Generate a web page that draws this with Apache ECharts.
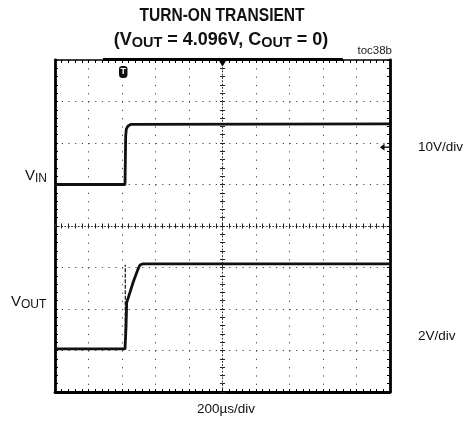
<!DOCTYPE html>
<html>
<head>
<meta charset="utf-8">
<script src="https://cdn.jsdelivr.net/npm/echarts@6/dist/echarts.min.js"></script>
<style>
  html, body { margin: 0; padding: 0; background: #fff; }
  #chart { width: 471px; height: 427px; }
</style>
</head>
<body>
<div id="chart"></div>
<script>
// Horizontal: time in µs relative to the trigger, 200µs/div over 10 divisions
const timeRange = [-400, 1600];
const timeStep = 200;

// Channel 1 (VIN), 10V/div over 8 divisions
const vinRange = [-50, 30];
const vinStep = 10;

// Channel 2 (VOUT), 2V/div over 8 divisions, ground a little above the 2nd line
const voutRange = [-2.08, 13.92];

// VIN trace (µs, V)
const vinTime  = [-400, 18, 20, 22, 26, 36, 54, 1600];
const vinVolts = [0, 0, 5.7, 11.7, 13.4, 14.1, 14.5, 14.6];

// VOUT trace (µs, V)
const voutTime  = [-400, 18, 22, 24, 28, 48, 67, 97, 107, 125, 1600];
const voutVolts = [0, 0, 0.73, 1.05, 2.23, 2.73, 3.22, 3.87, 4.04, 4.096, 4.096];

// narrow spike captured on VOUT at the switching instant
const spikeTime  = [19.7, 19.7];
const spikeVolts = [0.77, 4.05];

// trigger level on VIN (V) and record window shown on the top edge (µs)
const triggerLevel = 9;
const recordWindow = [-113, 1319];

const zip = (xs, ys) => xs.map((x, i) => [x, ys[i]]);

const chart = echarts.init(document.getElementById('chart'), null, { renderer: 'canvas' });

const INK = '#000';
const GRID_H = 332, GRID_W = 335;

function edgeAxis(position, width, extra) {
  return Object.assign({
    type: 'value',
    position: position,
    axisLine: { show: true, onZero: false, lineStyle: { color: INK, width: width } },
    axisTick: { show: true, inside: true, length: 3, lineStyle: { color: INK, width: 1 } },
    minorTick: { show: true, splitNumber: 5, length: 3, lineStyle: { color: INK, width: 1 } },
    axisLabel: { show: false },
    splitLine: { show: false }
  }, extra);
}

function centerAxis(position, offset, withLine, inside, extra) {
  return Object.assign({
    type: 'value',
    position: position,
    offset: offset,
    axisLine: { show: withLine, onZero: false, lineStyle: { color: '#333', width: 1, type: [1, 2.3] } },
    axisTick: { show: true, inside: inside, length: 2.5, lineStyle: { color: '#222', width: 1 } },
    minorTick: { show: true, splitNumber: 5, length: 2.5, lineStyle: { color: '#222', width: 1 } },
    axisLabel: { show: false },
    splitLine: { show: false }
  }, extra);
}

const xScale = { min: timeRange[0], max: timeRange[1], interval: timeStep };
const vinScale = { min: vinRange[0], max: vinRange[1], interval: vinStep };

chart.setOption({
  animation: false,
  backgroundColor: '#fff',
  grid: { left: 55, top: 60, width: GRID_W, height: GRID_H, outerBoundsMode: 'none', containLabel: false },
  xAxis: [
    edgeAxis('bottom', 2.8, Object.assign({}, xScale, {
      splitLine: { show: true, lineStyle: { color: '#444', width: 1, type: [1.2, 7.1] } }
    })),
    edgeAxis('top', 1.5, Object.assign({}, xScale)),
    centerAxis('bottom', -GRID_H / 2, true, true, Object.assign({}, xScale)),
    centerAxis('bottom', -GRID_H / 2, false, false, Object.assign({}, xScale))
  ],
  yAxis: [
    edgeAxis('left', 2.8, Object.assign({}, vinScale, {
      splitLine: { show: true, lineStyle: { color: '#444', width: 1, type: [1.2, 5.5] } }
    })),
    edgeAxis('right', 2.8, Object.assign({}, vinScale)),
    centerAxis('left', -GRID_W / 2, true, true, Object.assign({}, vinScale)),
    centerAxis('left', -GRID_W / 2, false, false, Object.assign({}, vinScale)),
    { type: 'value', show: false, min: voutRange[0], max: voutRange[1],
      axisLine: { onZero: false }, splitLine: { show: false } }
  ],
  series: [
    {
      name: 'VIN', type: 'line', xAxisIndex: 0, yAxisIndex: 0,
      data: zip(vinTime, vinVolts), showSymbol: false, symbol: 'none',
      lineStyle: { color: '#111', width: 2.8 }, z: 5
    },
    {
      name: 'VOUT', type: 'line', xAxisIndex: 0, yAxisIndex: 4,
      data: zip(voutTime, voutVolts), showSymbol: false, symbol: 'none',
      lineStyle: { color: '#111', width: 2.8 }, z: 5
    },
    {
      name: 'VOUT spike', type: 'line', xAxisIndex: 0, yAxisIndex: 4,
      data: zip(spikeTime, spikeVolts), showSymbol: false, symbol: 'none',
      lineStyle: { color: '#222', width: 1.3, type: [4, 1.5] }, z: 4
    }
  ]
});

// scope decorations placed through the axes
const px = v => chart.convertToPixel({ xAxisIndex: 0 }, v);
const pyVin = v => chart.convertToPixel({ yAxisIndex: 0 }, v);
const trigX = px(0);
const midX = px((timeRange[0] + timeRange[1]) / 2);
const topY = pyVin(vinRange[1]);
const rightX = px(timeRange[1]);
const trigY = pyVin(triggerLevel);

const FONT = '"Liberation Sans", Arial, Helvetica, sans-serif';

chart.setOption({
  graphic: [
    // record window bar on the top edge
    { type: 'line', shape: { x1: px(recordWindow[0]), y1: topY - 0.5, x2: px(recordWindow[1]), y2: topY - 0.5 },
      style: { stroke: INK, lineWidth: 3 }, z: 10 },
    // horizontal trigger position
    { type: 'polygon', shape: { points: [[midX - 4, topY], [midX + 4, topY], [midX, topY + 6.5]] },
      style: { fill: INK }, z: 10 },
    // trigger point marker
    { type: 'rect', shape: { x: trigX - 3, y: topY + 6, width: 8.5, height: 12, r: [3, 3, 3.5, 3.5] },
      style: { fill: '#111' }, z: 10 },
    { type: 'text', x: trigX + 1.25, y: topY + 12,
      style: { text: 'T', fill: '#fff', font: 'bold 9px ' + FONT, align: 'center', verticalAlign: 'middle' }, z: 11 },
    // trigger level arrow
    { type: 'line', shape: { x1: rightX - 7, y1: trigY, x2: rightX - 1, y2: trigY },
      style: { stroke: INK, lineWidth: 1.3 }, z: 10 },
    { type: 'polygon', shape: { points: [[rightX - 10, trigY], [rightX - 5.5, trigY - 3.5], [rightX - 5.5, trigY + 3.5]] },
      style: { fill: INK }, z: 10 },
    // title
    { type: 'text', x: 222, y: 16, scaleX: 0.865,
      style: { text: 'TURN-ON TRANSIENT', fill: '#111', font: 'bold 18px ' + FONT, align: 'center', verticalAlign: 'middle' } },
    { type: 'text', x: 221, y: 40, scaleX: 1.0,
      style: {
        text: '(V{s|OUT} = 4.096V, C{s|OUT} = 0)', fill: '#111', font: 'bold 18px ' + FONT,
        align: 'center', verticalAlign: 'middle', lineHeight: 21,
        rich: { s: { fontSize: 14.5, fontWeight: 'bold', fontFamily: FONT, fill: '#111', lineHeight: 17, verticalAlign: 'bottom' } }
      } },
    { type: 'text', x: 392, y: 51,
      style: { text: 'toc38b', fill: '#222', font: '11.5px ' + FONT, align: 'right', verticalAlign: 'middle' } },
    // channel labels
    { type: 'text', x: 25, y: 176,
      style: {
        text: 'V{s|IN}', fill: '#111', font: '15px ' + FONT, align: 'left', verticalAlign: 'middle', lineHeight: 18,
        rich: { s: { fontSize: 12, fontFamily: FONT, fill: '#111', lineHeight: 15, verticalAlign: 'bottom' } }
      } },
    { type: 'text', x: 11, y: 302,
      style: {
        text: 'V{s|OUT}', fill: '#111', font: '15px ' + FONT, align: 'left', verticalAlign: 'middle', lineHeight: 18,
        rich: { s: { fontSize: 12, fontFamily: FONT, fill: '#111', lineHeight: 15, verticalAlign: 'bottom' } }
      } },
    { type: 'text', x: 418, y: 147,
      style: { text: '10V/div', fill: '#111', font: '13.5px ' + FONT, align: 'left', verticalAlign: 'middle' } },
    { type: 'text', x: 418, y: 336,
      style: { text: '2V/div', fill: '#111', font: '13.5px ' + FONT, align: 'left', verticalAlign: 'middle' } },
    { type: 'text', x: 226, y: 409,
      style: { text: '200µs/div', fill: '#111', font: '13.5px ' + FONT, align: 'center', verticalAlign: 'middle' } }
  ]
});
</script>
</body>
</html>
